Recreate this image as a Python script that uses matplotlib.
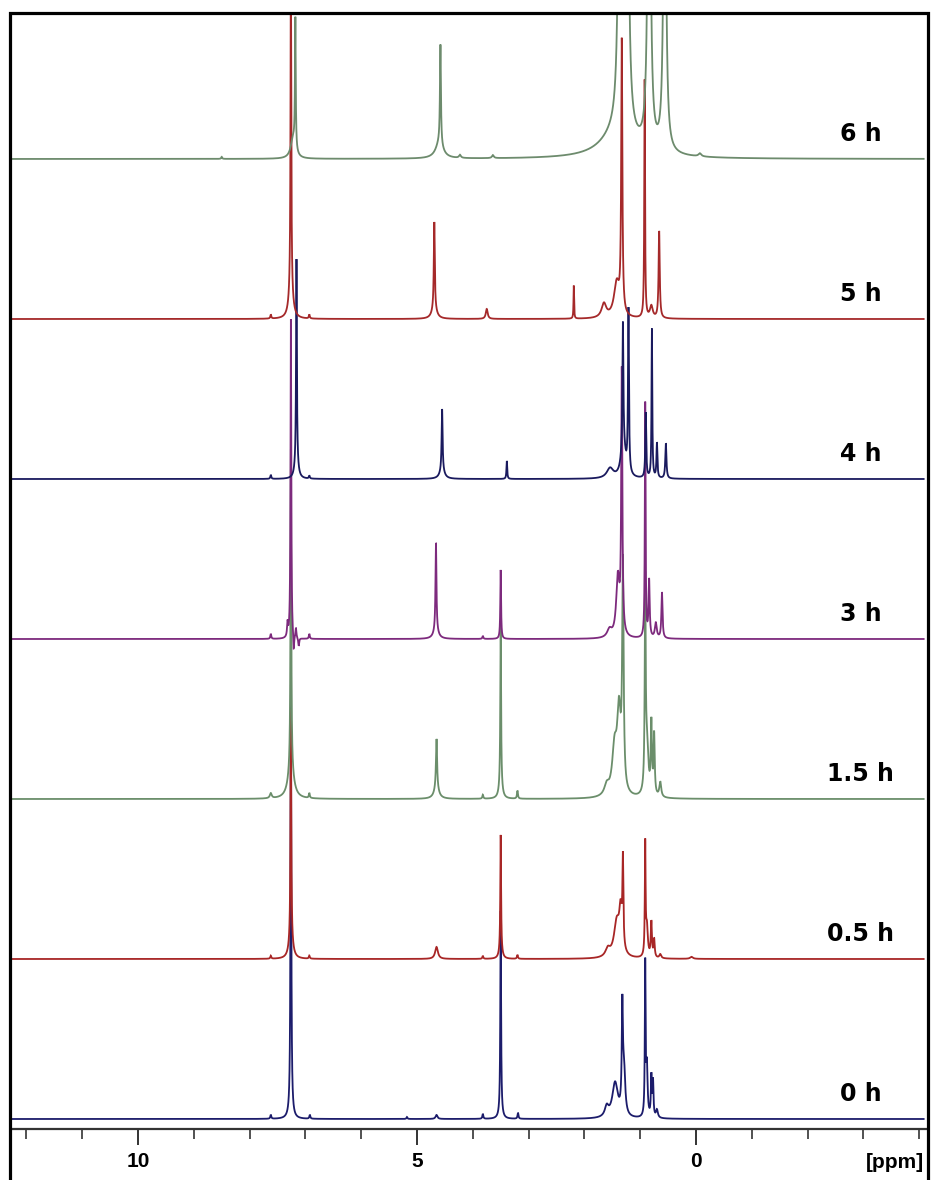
import numpy as np
import matplotlib
matplotlib.use("Agg")
import matplotlib.pyplot as plt
from matplotlib.patches import Rectangle

# ---------------- data ----------------
labels = ["0 h", "0.5 h", "1.5 h", "3 h", "4 h", "5 h", "6 h"]
colors = ["#1c1c6b", "#a82626", "#6b8e6b", "#7d2a7d", "#1a1a5e", "#a5292a", "#6d8b6d"]

# each peak: (shift in ppm, intensity, half width in ppm)
peaks_0h = [(7.62, 4, 0.01), (7.26, 420, 0.008), (7.26, 14, 0.03), (6.92, 4, 0.01),
            (5.18, 2, 0.01), (4.65, 4, 0.02), (3.82, 5, 0.01), (3.50, 200, 0.008),
            (3.50, 8, 0.03), (3.19, 6, 0.01), (1.60, 10, 0.04), (1.45, 35, 0.06),
            (1.32, 100, 0.012), (1.29, 45, 0.025), (0.91, 150, 0.008), (0.88, 50, 0.015),
            (0.80, 40, 0.01), (0.77, 35, 0.01), (0.70, 8, 0.02)]
peaks_05h = [(7.62, 3, 0.01), (7.26, 230, 0.008), (7.26, 20, 0.04), (6.93, 3, 0.01),
             (4.65, 12, 0.03), (3.82, 3, 0.01), (3.50, 116, 0.008), (3.50, 8, 0.03),
             (3.20, 4, 0.01), (1.58, 8, 0.05), (1.42, 35, 0.06), (1.35, 40, 0.03),
             (1.31, 85, 0.01), (0.91, 110, 0.008), (0.88, 30, 0.02), (0.80, 35, 0.012),
             (0.75, 18, 0.012), (0.64, 4, 0.02), (0.08, 2, 0.03)]
peaks_15h = [(7.62, 5, 0.02), (7.26, 320, 0.008), (7.26, 30, 0.06), (6.93, 5, 0.01),
             (4.65, 50, 0.012), (4.65, 10, 0.05), (3.82, 4, 0.01), (3.50, 160, 0.008),
             (3.50, 15, 0.03), (3.20, 8, 0.01), (1.60, 10, 0.05), (1.46, 45, 0.05),
             (1.38, 80, 0.04), (1.31, 220, 0.015), (0.91, 200, 0.01), (0.88, 50, 0.03),
             (0.80, 70, 0.012), (0.75, 60, 0.012), (0.64, 15, 0.02)]
peaks_3h = [(7.62, 5, 0.01), (7.26, 320, 0.008), (7.32, 14, 0.01), (7.21, -18, 0.01),
            (7.17, 10, 0.01), (7.12, -8, 0.01), (6.93, 5, 0.01), (4.66, 88, 0.01),
            (4.66, 8, 0.05), (3.82, 3, 0.01), (3.50, 69, 0.008), (1.55, 8, 0.05),
            (1.40, 60, 0.035), (1.33, 260, 0.012), (0.91, 235, 0.008), (0.84, 57, 0.012),
            (0.72, 15, 0.02), (0.61, 46, 0.012)]
peaks_4h = [(7.62, 4, 0.01), (7.16, 200, 0.008), (7.16, 20, 0.03), (6.93, 3, 0.01),
            (4.55, 62, 0.01), (4.55, 8, 0.05), (3.39, 18, 0.008), (1.54, 10, 0.07),
            (1.31, 126, 0.01), (1.30, 30, 0.05), (1.21, 163, 0.01), (0.90, 65, 0.01),
            (0.79, 149, 0.008), (0.70, 35, 0.01), (0.54, 35, 0.012)]
peaks_5h = [(7.62, 4, 0.01), (7.26, 320, 0.008), (7.26, 30, 0.04), (6.93, 4, 0.01),
            (4.69, 87, 0.01), (4.69, 10, 0.05), (3.75, 10, 0.02), (2.19, 33, 0.006),
            (1.65, 14, 0.05), (1.42, 35, 0.06), (1.33, 270, 0.012), (0.92, 238, 0.008),
            (0.80, 12, 0.03), (0.66, 87, 0.012)]
peaks_6h = [(8.5, 2, 0.01), (7.18, 130, 0.008), (7.22, 20, 0.05), (4.58, 100, 0.01),
            (4.60, 15, 0.08), (4.23, 3, 0.02), (3.64, 3, 0.02), (1.40, 25, 0.35),
            (1.36, 600, 0.025), (1.24, 600, 0.025), (0.84, 500, 0.025), (0.56, 400, 0.025),
            (-0.07, 3, 0.03)]
all_peaks = [peaks_0h, peaks_05h, peaks_15h, peaks_3h, peaks_4h, peaks_5h, peaks_6h]

major_ticks = [10, 5, 0]
minor_ticks = list(range(-4, 13))
axis_label = "[ppm]"

# ---------------- drawing ----------------
W, H = 931, 1180
fig = plt.figure(figsize=(W / 100, H / 100), dpi=100)
fig.patch.set_facecolor("white")

ax_left, ax_right, ax_top, ax_bottom = 11, 928, 15, 1129
ax = fig.add_axes([ax_left / W, (H - ax_bottom) / H,
                   (ax_right - ax_left) / W, (ax_bottom - ax_top) / H])
ppm_left, ppm_right = 12.276, -4.158
ax.set_xlim(ppm_left, ppm_right)
ax.set_ylim(0, ax_bottom - ax_top)

grid = np.linspace(12.3, -4.08, 40000)
step = 160.0
for i, (pk, col, lab) in enumerate(zip(all_peaks, colors, labels)):
    off = 10 + step * i
    y = np.zeros_like(grid)
    for c, h, g in pk:
        y += h / (1.0 + ((grid - c) / g) ** 2)
    ax.plot(grid, y + off, color=col, lw=1.3, zorder=2 + i, solid_joinstyle="miter")
    ax.text(-2.95, off + 25, lab, fontsize=17, fontweight="bold",
            family=["DejaVu Sans"], ha="center", va="center",
            color="black", zorder=20)

for s in ["left", "top", "right"]:
    ax.spines[s].set_visible(False)
ax.spines["bottom"].set_color("#333333")
ax.spines["bottom"].set_linewidth(1.6)
ax.set_yticks([])
ax.set_xticks(major_ticks)
ax.set_xticks(minor_ticks, minor=True)
ax.tick_params(axis="x", which="major", direction="out", length=11.5, width=1.4,
               color="#333333", pad=5, labelsize=15)
ax.tick_params(axis="x", which="minor", direction="out", length=7, width=1.2,
               color="#333333")
for t in ax.get_xticklabels():
    t.set_fontweight("bold")
    t.set_family(["Liberation Sans", "DejaVu Sans"])
ax.text(-3.57, -33, axis_label, fontsize=15, fontweight="bold",
        family=["Liberation Sans", "DejaVu Sans"], ha="center", va="center",
        clip_on=False)

# outer frame
fig.add_artist(Rectangle((10 / W, -0.05), (928 - 10) / W, (H - 13) / H + 0.05,
                         transform=fig.transFigure, fill=False, lw=2.3,
                         edgecolor="black", zorder=50))

fig.savefig("out.png", dpi=100, facecolor="white")
